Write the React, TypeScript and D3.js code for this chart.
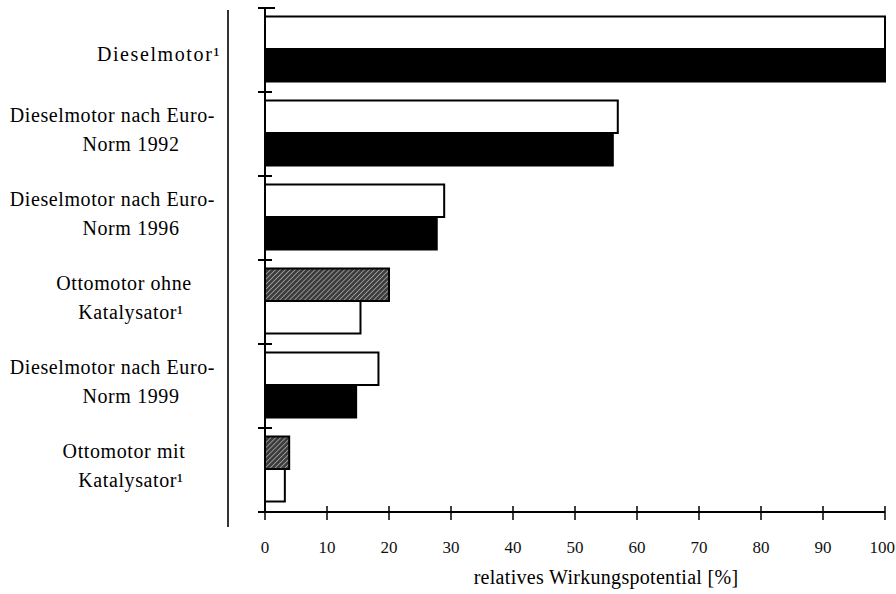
import React from "react";
import * as d3 from "d3";

const categories = [
  "Dieselmotor¹",
  "Dieselmotor nach Euro-\nNorm 1992",
  "Dieselmotor nach Euro-\nNorm 1996",
  "Ottomotor ohne\nKatalysator¹",
  "Dieselmotor nach Euro-\nNorm 1999",
  "Ottomotor mit\nKatalysator¹",
];
const engineTypes = ["diesel", "diesel", "diesel", "otto", "diesel", "otto"];
const upperValues = [100, 56.9, 28.9, 20.0, 18.3, 3.9];
const lowerValues = [100, 56.1, 27.7, 15.4, 14.7, 3.2];
const xTicks = [0, 10, 20, 30, 40, 50, 60, 70, 80, 90, 100];
const xTitle = "relatives Wirkungspotential [%]";

const W = 896;
const H = 594;
const FONT = "'Liberation Serif', 'DejaVu Serif', serif";

function fillFor(type: string, pos: "upper" | "lower") {
  if (type === "diesel") return pos === "upper" ? "#ffffff" : "#000000";
  return pos === "upper" ? "url(#hatch)" : "#ffffff";
}

export default function App() {
  const x = d3.scaleLinear().domain([0, 100]).range([265, 885]);
  const y = d3.scaleBand<string>().domain(categories).range([8, 512]).padding(0);
  const inner = d3
    .scaleBand<string>()
    .domain(["upper", "lower"])
    .range([8.5, 73.5])
    .padding(0);
  const boundaries = categories.map((c) => y(c) as number).concat([512]);

  const labelFont = 20;
  const spacing = 0.6;

  return (
    <svg
      width={W}
      height={H}
      style={{ position: "absolute", left: 0, top: 0, background: "#fff" }}
      fontFamily={FONT}
    >
      <defs>
        <pattern
          id="hatch"
          patternUnits="userSpaceOnUse"
          width={3.5}
          height={3.5}
          patternTransform="rotate(45)"
        >
          <rect width={3.5} height={3.5} fill="#3c3c3c" />
          <line x1={0} y1={0} x2={0} y2={3.5} stroke="#d8d8d8" strokeWidth={1.1} />
        </pattern>
      </defs>
      <rect x={0} y={0} width={W} height={H} fill="#fff" />

      {/* left frame line */}
      <line x1={228} x2={228} y1={10} y2={527} stroke="#000" strokeWidth={1.6} />

      {/* bars */}
      {categories.map((c, i) => {
        const g = y(c) as number;
        const bars = [
          { pos: "upper" as const, v: upperValues[i] },
          { pos: "lower" as const, v: lowerValues[i] },
        ];
        return (
          <g key={c}>
            {bars.map((b) => (
              <rect
                key={b.pos}
                x={x(0)}
                y={g + (inner(b.pos) as number)}
                width={x(b.v) - x(0)}
                height={inner.bandwidth()}
                fill={fillFor(engineTypes[i], b.pos)}
                stroke="#000"
                strokeWidth={2}
              />
            ))}
          </g>
        );
      })}

      {/* y axis */}
      <line x1={265} x2={265} y1={8} y2={512} stroke="#000" strokeWidth={2} />
      {boundaries.map((b, i) => (
        <line
          key={i}
          x1={258}
          x2={i === 0 ? 275 : 272}
          y1={b}
          y2={b}
          stroke="#000"
          strokeWidth={2}
        />
      ))}

      {/* x axis */}
      <line x1={258} x2={x(100)} y1={512} y2={512} stroke="#000" strokeWidth={2} />
      {xTicks.map((t, i) => {
        const last = i === xTicks.length - 1;
        return (
          <g key={t}>
            <line x1={x(t)} x2={x(t)} y1={506} y2={520} stroke="#000" strokeWidth={1.5} />
            <text
              x={last ? W - 1 : x(t)}
              y={553}
              fontSize={17}
              textAnchor={last ? "end" : "middle"}
              fill="#111"
            >
              {t}
            </text>
          </g>
        );
      })}
      <text x={606} y={584} fontSize={20} textAnchor="middle" fill="#000" letterSpacing={0.3}>
        {xTitle}
      </text>

      {/* category labels */}
      {categories.map((c) => {
        const g = y(c) as number;
        const mid = g + y.bandwidth() / 2;
        const lines = c.split("\n");
        if (lines.length === 1) {
          return (
            <text
              key={c}
              x={221}
              y={mid + 11}
              fontSize={labelFont}
              letterSpacing={1.6}
              textAnchor="end"
              fill="#000"
            >
              {lines[0]}
            </text>
          );
        }
        const w1 = lines[0].length * 9.6;
        const c1 = Math.min(124, 218 - w1 / 2);
        return (
          <g key={c}>
            <text
              x={c1}
              y={mid - 12}
              fontSize={labelFont}
              letterSpacing={spacing}
              textAnchor="middle"
              fill="#000"
            >
              {lines[0]}
            </text>
            <text
              x={131}
              y={mid + 17}
              fontSize={labelFont}
              letterSpacing={spacing}
              textAnchor="middle"
              fill="#000"
            >
              {lines[1]}
            </text>
          </g>
        );
      })}
    </svg>
  );
}
